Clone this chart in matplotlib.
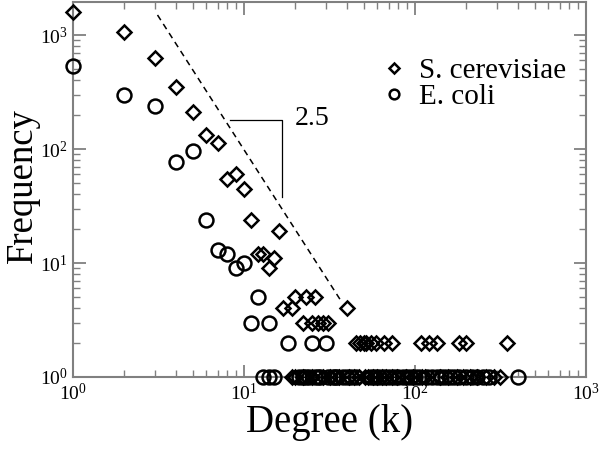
import matplotlib
matplotlib.use('Agg')
import matplotlib.pyplot as plt

plt.rcParams['font.family'] = ['Liberation Serif', 'DejaVu Serif']
plt.rcParams['mathtext.fontset'] = 'stix'

# --- data ---
yeast_k = [1, 2, 3, 4, 5, 6, 7, 8, 9, 10, 11, 12, 13, 14, 15, 16,
           17, 19, 20, 22, 23, 25, 26, 27, 29, 31, 40,
           45, 48, 50, 52, 55, 59, 66, 73, 108, 120, 134, 180, 200, 343,
           19, 20, 22, 25, 29, 32, 36, 41, 44, 47, 51, 53, 57, 60, 64, 68,
           73, 78, 88, 98, 110, 114, 140, 155, 175, 190, 210, 230, 260, 290, 315]
yeast_f = [1600, 1060, 630, 350, 210, 133, 112, 55, 61, 45, 24, 12, 12, 9, 11, 19,
           4, 4, 5, 3, 5, 3, 5, 3, 3, 3, 4,
           2, 2, 2, 2, 2, 2, 2, 2, 2, 2, 2, 2, 2, 2,
           1, 1, 1, 1, 1, 1, 1, 1, 1, 1, 1, 1, 1, 1, 1, 1,
           1, 1, 1, 1, 1, 1, 1, 1, 1, 1, 1, 1, 1, 1, 1]

ecoli_k = [1, 2, 3, 4, 5, 6, 7, 8, 9, 10, 11, 12, 14, 18, 25, 30,
           13, 14, 15, 21, 22, 23, 24, 26, 27, 28, 31, 33, 34, 35, 38, 40, 42,
           45, 55, 58, 62, 66, 70, 75, 80, 85, 90, 95, 100, 105, 118, 125,
           135, 142, 150, 160, 170, 180, 200, 215, 230, 250, 270, 400]
ecoli_f = [540, 300, 240, 77, 96, 24, 13, 12, 9, 10, 3, 5, 3, 2, 2, 2,
           1, 1, 1, 1, 1, 1, 1, 1, 1, 1, 1, 1, 1, 1, 1, 1, 1,
           1, 1, 1, 1, 1, 1, 1, 1, 1, 1, 1, 1, 1, 1, 1,
           1, 1, 1, 1, 1, 1, 1, 1, 1, 1, 1, 1]

# power-law guide line and slope triangle
fit_k = [3.12, 37.6]
fit_f = [1500, 4.46]
tri_k = [8.3, 16.6, 16.6]
tri_f = [180, 180, 38]
slope_label = '2.5'

fig = plt.figure(figsize=(6, 4.49), dpi=100)
ax = fig.add_axes([73 / 600, 1 - 377 / 449, (586 - 73) / 600, (377 - 2) / 449])

ax.plot(yeast_k, yeast_f, linestyle='none', marker='D', markersize=7,
        markerfacecolor='none', markeredgecolor='black', markeredgewidth=1.8,
        clip_on=False, zorder=5, label='S. cerevisiae')
ax.plot(ecoli_k, ecoli_f, linestyle='none', marker='o', markersize=10,
        markerfacecolor='none', markeredgecolor='black', markeredgewidth=1.8,
        clip_on=False, zorder=5, label='E. coli')

ax.plot(fit_k, fit_f, color='black', linestyle=(0, (4, 3)), linewidth=1.1)
ax.plot(tri_k, tri_f, color='black', linewidth=0.9)
ax.text(19.8, 187, slope_label, fontsize=20, va='center', ha='left')

ax.set_xscale('log')
ax.set_yscale('log')
ax.set_xlim(1, 1000)
ax.set_ylim(1, 1950)

for sp in ax.spines.values():
    sp.set_color('#808080')
    sp.set_linewidth(1.5)

ax.tick_params(which='both', direction='in', top=True, right=True, color='#808080')
ax.tick_params(which='major', length=9, width=1.3, labelsize=14, pad=4)
ax.tick_params(which='minor', length=5, width=1.0)

ax.set_xlabel('Degree (k)', fontsize=28, labelpad=0)
ax.set_ylabel('Frequency', fontsize=26.5)
ax.yaxis.set_label_coords(-0.064, 0.51)

leg = ax.legend(loc='upper left', bbox_to_anchor=(365 / 600, 1 - 43 / 449),
                bbox_transform=fig.transFigure, frameon=False, fontsize=21,
                markerscale=0.7, handlelength=1.0, handletextpad=0.35,
                labelspacing=0.0, borderpad=0)

fig.savefig('out.png', dpi=100)
